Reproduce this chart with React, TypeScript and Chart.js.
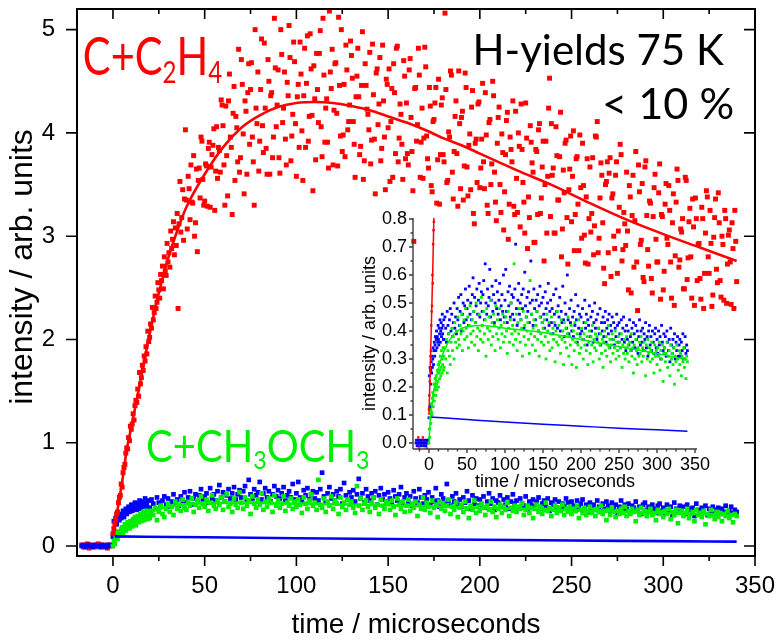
import React, { useEffect, useRef } from 'react';
import { Chart, registerables } from 'chart.js';

Chart.register(...registerables);

// ---------------- data: time in microseconds, intensity in arb. units ----------------
const baselineStart = -17;
const baselineStep = 1;
const redBaseline = [0.01, -0.01, 0.0, 0.02, -0.02, 0.01, 0.0, -0.01, 0.01, 0.02, 0.0, -0.01, 0.01, 0.0, -0.02, 0.01, 0.0];
const blueBaseline = [0.0, 0.01, -0.01, 0.0, 0.01, 0.0, -0.01, 0.01, 0.0, 0.0, -0.01, 0.01, 0.0, -0.01, 0.01, 0.0, 0.01];

// C + C2H4 (red)
const redEarlyStart = 0;
const redEarlyStep = 0.5;
const redEarly = [
  0.12, 0.17, 0.22, 0.26, 0.31, 0.33, 0.42, 0.47, 0.49, 0.60,
  0.57, 0.71, 0.76, 0.79, 0.90, 0.95, 0.94, 1.05, 1.02, 1.16,
  1.13, 1.18, 1.28, 1.22, 1.36, 1.41, 1.39, 1.52, 1.45, 1.68,
  1.57, 1.63, 1.75, 1.70, 1.84, 1.79, 1.93, 1.86, 2.08, 1.98,
  2.02, 2.15, 2.11, 2.31, 2.19, 2.26, 2.42, 2.30, 2.36, 2.55,
  2.48, 2.40, 2.63, 2.57, 2.71, 2.49, 2.80, 2.66, 2.62, 2.93,
  2.75, 2.84, 2.70, 3.05, 2.88, 2.97, 3.14, 2.82, 3.08, 2.91,
  3.22, 2.30, 3.12, 3.53, 3.04, 3.18, 3.45, 2.96, 3.36, 4.03,
];
const redLateStart = 40;
const redLateStep = 1;
const redLate = [
  3.35, 3.58, 3.16, 3.33, 3.78, 3.13, 2.85, 3.66, 3.96, 3.55,
  3.34, 3.68, 3.85, 3.28, 3.79, 4.04, 3.63, 3.56, 3.83, 4.32,
  4.07, 3.30, 3.78, 4.31, 3.96, 3.21, 4.45, 4.16, 3.72, 3.62,
  4.71, 3.99, 4.31, 3.60, 4.67, 4.42, 3.96, 3.30, 4.24, 4.59,
  3.92, 4.91, 3.81, 4.24, 3.60, 4.50, 4.36, 3.76, 5.11, 4.06,
  4.61, 3.61, 4.76, 4.24, 3.94, 4.49, 5.04, 3.73, 4.18, 4.69,
  3.58, 4.47, 4.88, 4.02, 4.36, 3.86, 4.94, 4.16, 4.62, 3.44,
  4.33, 4.77, 4.10, 4.99, 3.77, 4.56, 4.24, 3.91, 5.18, 4.43,
  3.69, 4.67, 4.19, 5.12, 3.97, 3.82, 4.47, 4.85, 4.03, 4.27,
  4.75, 4.11, 3.57, 4.55, 4.35, 3.87, 4.98, 3.73, 4.46, 4.18,
  4.78, 3.93, 4.37, 3.41, 4.62, 4.28, 3.73, 4.85, 3.96, 4.52,
  4.05, 3.53, 4.43, 4.67, 3.80, 4.84, 3.95, 4.18, 3.55, 4.55,
  4.29, 3.69, 4.72, 3.82, 2.95, 4.44, 4.08, 4.56, 3.91, 3.56,
  4.83, 3.97, 3.66, 4.26, 3.43, 4.13, 4.44, 3.74, 3.31, 4.27,
  3.79, 5.16, 3.52, 4.01, 4.60, 3.62, 3.82, 4.31, 3.29, 4.09,
  4.15, 3.35, 4.58, 3.67, 3.88, 3.45, 4.41, 3.12, 3.94, 4.28,
  3.47, 3.94, 3.72, 4.39, 3.30, 4.10, 3.50, 4.50, 3.62, 3.15,
  4.15, 3.50, 3.99, 3.06, 3.79, 4.20, 3.31, 3.84, 4.31, 3.21,
  3.56, 4.00, 3.09, 3.84, 3.33, 4.29, 2.88, 3.18, 3.91, 3.62,
  2.94, 3.82, 4.03, 3.22, 3.67, 2.76, 3.92, 3.58, 4.53, 4.09,
  3.66, 3.03, 3.78, 3.35, 4.20, 3.07, 3.42, 3.93, 2.73, 3.65,
  3.14, 4.02, 3.21, 3.77, 2.86, 3.47, 3.90, 3.01, 3.38, 2.73,
  3.67, 3.22, 2.82, 3.97, 4.11, 2.98, 3.71, 3.13, 2.54, 3.53,
  2.84, 3.76, 3.37, 3.00, 3.59, 2.64, 3.28, 3.79, 2.87, 3.12,
  3.62, 2.48, 3.38, 3.20, 2.70, 3.82, 2.28, 3.43, 2.96, 2.60,
  3.67, 3.20, 2.71, 3.32, 2.45, 3.47, 2.97, 2.75, 3.70, 3.21,
  2.48, 3.31, 2.98, 3.49, 2.75, 3.13, 2.33, 3.33, 3.54, 2.77,
  3.04, 2.49, 3.57, 2.58, 3.14, 2.80, 3.36, 2.33, 3.17, 2.92,
  2.59, 3.28, 2.30, 3.03, 3.38, 2.64, 2.93, 2.43, 3.18, 2.68,
  3.42, 2.57, 3.00, 2.38, 3.17, 2.73, 3.06, 2.34, 2.88, 3.25,
  2.56,
];
// interleaved red samples (half-step later)
const redLate2Start = 40.5;
const redLate2Step = 1;
const redLate2 = [
  3.07, 3.46, 3.69, 3.32, 3.00, 3.65, 3.54, 3.37, 3.92, 3.30,
  3.70, 3.29, 3.91, 3.67, 3.88, 3.25, 4.06, 3.86, 3.62, 4.27,
  3.69, 4.26, 3.39, 4.57, 3.86, 4.19, 3.54, 4.05, 4.81, 3.76,
  4.47, 3.41, 4.21, 4.39, 3.89, 4.68, 3.72, 5.00, 4.09, 3.63,
  4.42, 4.07, 4.87, 3.85, 4.71, 3.60, 4.39, 3.96, 4.63, 4.27,
  3.76, 5.00, 4.10, 4.59, 3.69, 4.36, 4.73, 3.97, 4.88, 4.09,
  4.35, 3.86, 4.57, 3.54, 4.82, 4.48, 3.92, 4.96, 4.17, 4.65,
  3.74, 4.42, 4.77, 4.06, 5.11, 3.91, 4.33, 3.66, 4.59, 4.81,
  4.22, 4.68, 3.68, 4.46, 5.00, 3.98, 3.77, 4.61, 4.11, 4.89,
  4.53, 3.89, 4.35, 4.82, 3.79, 4.46, 3.55, 4.67, 4.23, 4.03,
  3.70, 4.86, 3.94, 4.58, 4.08, 4.73, 3.85, 4.31, 3.45, 4.47,
  4.62, 4.11, 3.57, 4.39, 4.82, 3.72, 4.28, 3.89, 4.70, 3.75,
  3.80, 4.61, 4.15, 3.44, 4.43, 3.92, 4.82, 3.57, 4.24, 3.95,
  4.64, 3.75, 4.44, 3.49, 4.11, 4.29, 3.32, 4.52, 3.79, 4.34,
  3.72, 4.42, 3.54, 3.96, 4.56, 3.36, 4.16, 3.80, 4.60, 3.46,
  4.21, 3.68, 4.44, 3.39, 3.99, 4.25, 3.22, 3.90, 3.52, 4.30,
  3.66, 4.48, 3.46, 3.98, 3.22, 4.13, 3.70, 4.36, 3.33, 3.90,
  4.25, 3.23, 3.81, 3.43, 4.12, 2.97, 3.96, 3.72, 3.29, 4.21,
  3.23, 3.87, 4.28, 3.52, 3.03, 3.95, 3.38, 4.07, 3.71, 2.94,
  3.84, 3.21, 4.09, 3.37, 3.92, 3.50, 3.03, 4.24, 3.19, 3.59,
  3.03, 4.06, 3.35, 3.77, 2.80, 3.64, 3.90, 3.18, 3.45, 3.97,
  3.58, 2.86, 3.75, 3.31, 3.98, 2.98, 3.49, 2.74, 3.75, 3.17,
  3.04, 3.76, 3.10, 3.96, 2.84, 3.37, 3.59, 2.69, 3.50, 3.72,
  3.61, 2.61, 3.41, 2.88, 3.72, 3.05, 3.89, 2.76, 3.23, 2.91,
  3.05, 3.49, 2.45, 3.59, 3.15, 2.75, 3.69, 2.92, 3.51, 2.56,
  3.73, 2.87, 3.34, 2.59, 3.19, 3.60, 2.75, 3.42, 2.39, 3.19,
  2.66, 3.51, 2.92, 3.25, 2.40, 3.41, 2.81, 3.65, 2.70, 3.07,
  3.17, 2.49, 3.54, 2.79, 3.27, 2.40, 3.09, 3.37, 2.57, 2.93,
  2.39, 3.17, 2.64, 3.44, 2.80, 3.25, 2.32, 2.99, 3.36, 2.55,
  3.13, 2.41, 2.92, 3.25, 2.35, 3.01, 2.75, 3.13, 2.30, 2.95,
];

// second (blue) series
const blueEarlyStart = 0;
const blueEarlyStep = 0.5;
const blueEarly = [
  0.09, 0.24, 0.13, 0.27, 0.21, 0.26, 0.29, 0.25, 0.31, 0.27,
  0.30, 0.34, 0.28, 0.33, 0.36, 0.31, 0.35, 0.38, 0.33, 0.37,
  0.40, 0.34, 0.38, 0.36, 0.42, 0.37, 0.35, 0.41, 0.39, 0.44,
  0.36, 0.40, 0.43, 0.38, 0.41, 0.46, 0.39, 0.42, 0.37, 0.44,
];
const blueLateStart = 20;
const blueLateStep = 1;
const blueLate = [
  0.37, 0.45, 0.41, 0.36, 0.47, 0.42, 0.39, 0.44, 0.48, 0.40,
  0.46, 0.38, 0.43, 0.50, 0.41, 0.45, 0.39, 0.48, 0.44, 0.52,
  0.42, 0.47, 0.53, 0.40, 0.46, 0.50, 0.43, 0.49, 0.55, 0.44,
  0.48, 0.51, 0.42, 0.56, 0.46, 0.50, 0.44, 0.53, 0.59, 0.47,
  0.52, 0.43, 0.49, 0.55, 0.46, 0.51, 0.57, 0.45, 0.50, 0.54,
  0.47, 0.53, 0.58, 0.44, 0.64, 0.50, 0.46, 0.55, 0.49, 0.52,
  0.62, 0.45, 0.51, 0.56, 0.47, 0.53, 0.43, 0.50, 0.58, 0.48,
  0.54, 0.46, 0.51, 0.57, 0.44, 0.49, 0.53, 0.47, 0.60, 0.45,
  0.51, 0.62, 0.47, 0.43, 0.54, 0.49, 0.56, 0.45, 0.50, 0.53,
  0.46, 0.52, 0.44, 0.55, 0.71, 0.48, 0.42, 0.51, 0.57, 0.46,
  0.50, 0.44, 0.53, 0.48, 0.55, 0.41, 0.61, 0.49, 0.45, 0.52,
  0.47, 0.54, 0.43, 0.50, 0.65, 0.46, 0.51, 0.42, 0.55, 0.48,
  0.44, 0.51, 0.47, 0.53, 0.40, 0.49, 0.56, 0.45, 0.50, 0.43,
  0.52, 0.46, 0.41, 0.54, 0.48, 0.44, 0.50, 0.57, 0.42, 0.47,
  0.51, 0.43, 0.48, 0.39, 0.53, 0.46, 0.42, 0.55, 0.47, 0.41,
  0.49, 0.45, 0.52, 0.40, 0.47, 0.43, 0.56, 0.44, 0.38, 0.50,
  0.46, 0.41, 0.60, 0.44, 0.39, 0.48, 0.43, 0.51, 0.40, 0.45,
  0.38, 0.47, 0.42, 0.53, 0.44, 0.36, 0.49, 0.41, 0.46, 0.39,
  0.45, 0.40, 0.48, 0.37, 0.43, 0.51, 0.41, 0.46, 0.35, 0.44,
  0.42, 0.49, 0.38, 0.45, 0.40, 0.47, 0.36, 0.43, 0.50, 0.41,
  0.44, 0.37, 0.46, 0.41, 0.39, 0.48, 0.35, 0.43, 0.40, 0.45,
  0.38, 0.43, 0.47, 0.36, 0.41, 0.44, 0.39, 0.46, 0.34, 0.42,
  0.40, 0.45, 0.37, 0.43, 0.35, 0.41, 0.38, 0.46, 0.42, 0.36,
  0.43, 0.39, 0.34, 0.44, 0.37, 0.41, 0.45, 0.36, 0.40, 0.33,
  0.42, 0.37, 0.40, 0.35, 0.44, 0.38, 0.33, 0.41, 0.36, 0.43,
  0.39, 0.34, 0.42, 0.37, 0.40, 0.32, 0.38, 0.44, 0.35, 0.40,
  0.36, 0.41, 0.33, 0.39, 0.37, 0.43, 0.34, 0.38, 0.31, 0.40,
  0.42, 0.35, 0.38, 0.33, 0.40, 0.36, 0.32, 0.39, 0.41, 0.34,
  0.37, 0.32, 0.40, 0.35, 0.38, 0.30, 0.42, 0.36, 0.33, 0.39,
  0.34, 0.38, 0.31, 0.40, 0.36, 0.33, 0.37, 0.29, 0.41, 0.35,
  0.32, 0.37, 0.34, 0.39, 0.30, 0.36, 0.33, 0.38, 0.31, 0.35,
  0.37, 0.31, 0.36, 0.33, 0.39, 0.30, 0.34, 0.38, 0.32, 0.35,
  0.33,
];

// C + CH3OCH3 (green)
const greenEarlyStart = 0;
const greenEarlyStep = 0.5;
const greenEarly = [
  0.00, 0.05, 0.02, 0.09, 0.12, 0.07, 0.14, 0.11, 0.10, 0.16,
  0.18, 0.13, 0.17, 0.21, 0.15, 0.19, 0.23, 0.20, 0.17, 0.24,
  0.21, 0.19, 0.26, 0.22, 0.28, 0.20, 0.25, 0.29, 0.23, 0.26,
  0.31, 0.24, 0.27, 0.33, 0.25, 0.30, 0.28, 0.34, 0.26, 0.31,
];
const greenLateStart = 20;
const greenLateStep = 1;
const greenLate = [
  0.27, 0.34, 0.30, 0.37, 0.25, 0.33, 0.39, 0.31, 0.28, 0.36,
  0.41, 0.33, 0.38, 0.30, 0.43, 0.36, 0.40, 0.34, 0.45, 0.37,
  0.35, 0.42, 0.39, 0.46, 0.33, 0.40, 0.44, 0.37, 0.48, 0.41,
  0.38, 0.45, 0.34, 0.42, 0.49, 0.39, 0.36, 0.44, 0.40, 0.47,
  0.35, 0.43, 0.50, 0.38, 0.41, 0.33, 0.46, 0.40, 0.37, 0.52,
  0.42, 0.36, 0.47, 0.39, 0.44, 0.31, 0.48, 0.41, 0.37, 0.45,
  0.40, 0.51, 0.35, 0.43, 0.38, 0.46, 0.42, 0.33, 0.49, 0.39,
  0.44, 0.37, 0.41, 0.48, 0.34, 0.42, 0.39, 0.46, 0.36, 0.43,
  0.38, 0.45, 0.40, 0.32, 0.47, 0.41, 0.36, 0.44, 0.50, 0.39,
  0.42, 0.35, 0.64, 0.40, 0.37, 0.46, 0.33, 0.43, 0.39, 0.48,
  0.36, 0.44, 0.41, 0.31, 0.47, 0.38, 0.42, 0.35, 0.45, 0.40,
  0.43, 0.37, 0.32, 0.58, 0.39, 0.46, 0.35, 0.41, 0.44, 0.38,
  0.33, 0.42, 0.47, 0.37, 0.40, 0.31, 0.45, 0.39, 0.36, 0.43,
  0.41, 0.35, 0.44, 0.38, 0.30, 0.46, 0.40, 0.36, 0.43, 0.33,
  0.39, 0.45, 0.34, 0.41, 0.37, 0.43, 0.29, 0.40, 0.36, 0.47,
  0.35, 0.42, 0.38, 0.32, 0.44, 0.37, 0.40, 0.28, 0.43, 0.36,
  0.41, 0.34, 0.39, 0.45, 0.31, 0.38, 0.35, 0.42, 0.28, 0.37,
  0.40, 0.33, 0.43, 0.36, 0.27, 0.39, 0.35, 0.44, 0.32, 0.38,
  0.34, 0.41, 0.37, 0.30, 0.39, 0.35, 0.43, 0.33, 0.38, 0.28,
  0.36, 0.40, 0.32, 0.38, 0.35, 0.42, 0.29, 0.37, 0.34, 0.39,
  0.33, 0.38, 0.36, 0.41, 0.30, 0.35, 0.39, 0.32, 0.37, 0.27,
  0.36, 0.40, 0.33, 0.38, 0.31, 0.35, 0.42, 0.34, 0.37, 0.29,
  0.35, 0.39, 0.32, 0.37, 0.34, 0.40, 0.30, 0.36, 0.33, 0.38,
  0.31, 0.36, 0.34, 0.39, 0.27, 0.35, 0.32, 0.37, 0.30, 0.34,
  0.38, 0.32, 0.35, 0.29, 0.36, 0.33, 0.39, 0.31, 0.34, 0.25,
  0.35, 0.30, 0.37, 0.33, 0.28, 0.34, 0.31, 0.36, 0.32, 0.38,
  0.29, 0.34, 0.31, 0.36, 0.33, 0.24, 0.35, 0.30, 0.37, 0.32,
  0.34, 0.29, 0.33, 0.36, 0.30, 0.32, 0.25, 0.35, 0.31, 0.33,
  0.28, 0.34, 0.31, 0.36, 0.26, 0.33, 0.30, 0.35, 0.22, 0.32,
  0.34, 0.29, 0.32, 0.36, 0.27, 0.31, 0.33, 0.24, 0.35, 0.30,
  0.32, 0.28, 0.34, 0.21, 0.31, 0.29, 0.35, 0.30, 0.26, 0.33,
  0.28, 0.32, 0.24, 0.31, 0.29, 0.34, 0.27, 0.30, 0.23, 0.31,
  0.29,
];

// fitted curves
const redFitTime = [0, 2.5, 5, 7.5, 10, 15, 20, 25, 30, 35, 40, 50, 60, 70, 80, 90, 100, 110, 120, 130, 140, 150, 160, 170, 180, 190, 200, 220, 240, 260, 280, 300, 320, 340];
const redFitValue = [0.1, 0.35, 0.62, 0.93, 1.15, 1.6, 2.05, 2.45, 2.78, 3.05, 3.28, 3.6, 3.86, 4.05, 4.17, 4.25, 4.29, 4.3, 4.29, 4.26, 4.22, 4.16, 4.1, 4.03, 3.95, 3.88, 3.8, 3.64, 3.49, 3.32, 3.16, 3.02, 2.89, 2.76];
const greenFitTime = [0, 2, 5, 10, 15, 20, 30, 40, 50, 70, 100, 150, 200, 250, 300, 340];
const greenFitValue = [0, 0.09, 0.16, 0.24, 0.29, 0.33, 0.38, 0.405, 0.415, 0.42, 0.41, 0.395, 0.37, 0.345, 0.32, 0.297];
const blueFitTime = [1, 50, 100, 150, 200, 250, 300, 340];
const blueFitValue = [0.093, 0.084, 0.075, 0.067, 0.06, 0.053, 0.047, 0.042];

// ticks
const mainXTicks = [0, 50, 100, 150, 200, 250, 300, 350];
const mainXMinorTicks = [25, 75, 125, 175, 225, 275, 325];
const mainYTicks = [0, 1, 2, 3, 4, 5];
const insetXTicks = [0, 50, 100, 150, 200, 250, 300, 350];
const insetXMinorTicks = [-12.5, 12.5, 25, 37.5, 62.5, 75, 87.5, 112.5, 125, 137.5, 162.5, 175, 187.5, 212.5, 225, 237.5, 262.5, 275, 287.5, 312.5, 325, 337.5];
const insetYTicks = [0, 0.1, 0.2, 0.3, 0.4, 0.5, 0.6, 0.7, 0.8];
const insetYMinorTicks = [0.05, 0.15, 0.25, 0.35, 0.45, 0.55, 0.65, 0.75];

// texts
const xTitle = 'time / microseconds';
const yTitle = 'intensity / arb. units';
const reaction1Label = [{ t: 'C+C' }, { t: '2', sub: true }, { t: 'H' }, { t: '4', sub: true }];
const reaction2Label = [{ t: 'C+CH' }, { t: '3', sub: true }, { t: 'OCH' }, { t: '3', sub: true }];
const yieldLabel = [{ t: 'H-yields 75 K' }];
const limitLabel = [{ t: '< 10 %' }];

// ---------------- helpers ----------------
const RED = '#ff0000';
const BLUE = '#0000ff';
const GREEN = '#00ee00';
const AXIS_FONT = "'Liberation Sans', Arial, sans-serif";
const NOTE_FONT = "Lato, 'Open Sans', sans-serif";

const seq = (start: number, step: number, values: number[]) => values.map((y, i) => ({ x: start + i * step, y }));
const pairs = (xs: number[], ys: number[]) => xs.map((x, i) => ({ x, y: ys[i] }));

const redPts = [
  ...seq(redEarlyStart, redEarlyStep, redEarly),
  ...seq(redLateStart, redLateStep, redLate),
  ...seq(redLate2Start, redLate2Step, redLate2),
];
const bluePts = [...seq(baselineStart, baselineStep, blueBaseline), ...seq(blueEarlyStart, blueEarlyStep, blueEarly), ...seq(blueLateStart, blueLateStep, blueLate)];
const greenPts = [...seq(greenEarlyStart, greenEarlyStep, greenEarly), ...seq(greenLateStart, greenLateStep, greenLate)];
const redBasePts = seq(baselineStart, baselineStep, redBaseline);

const pointSet = (data: any, color: string, r: number, order: number) => ({
  data, showLine: false, pointStyle: 'rect', pointRadius: r, pointBorderWidth: 0,
  pointBackgroundColor: color, backgroundColor: color, borderColor: color, order, clip: 0,
});
const lineSet = (data: any, color: string, w: number, order: number) => ({
  data, showLine: true, pointRadius: 0, borderColor: color, backgroundColor: color,
  borderWidth: w, order, clip: 0, fill: false, cubicInterpolationMode: 'monotone',
});

// greenLineOrder: main chart keeps the green fit under the green points, inset draws it on top
const buildDatasets = (r: number, rRed: number, lw: number, greenLineOrder: number) => [
  lineSet(pairs(redFitTime, redFitValue), RED, lw, 0),
  pointSet(redPts, RED, rRed, 1),
  lineSet(pairs(greenFitTime, greenFitValue), GREEN, lw, greenLineOrder),
  lineSet(pairs(blueFitTime, blueFitValue), BLUE, lw, 3),
  pointSet(greenPts, GREEN, r, 4),
  pointSet(bluePts, BLUE, r, 5),
  pointSet(redBasePts, RED, rRed, 6),
];

function drawRich(ctx: CanvasRenderingContext2D, parts: any[], x: number, y: number, size: number, color: string, sx: number) {
  ctx.save();
  ctx.translate(x, y);
  ctx.scale(sx, 1);
  ctx.fillStyle = color;
  ctx.textBaseline = 'alphabetic';
  ctx.textAlign = 'left';
  let cx = 0;
  for (const p of parts) {
    const fs = p.sub ? size * 0.58 : size;
    ctx.font = `${fs}px ${NOTE_FONT}`;
    ctx.fillText(p.t, cx, p.sub ? size * 0.15 : 0);
    cx += ctx.measureText(p.t).width;
  }
  ctx.restore();
}

const notes = [
  { parts: reaction1Label, t: -16.4, v: 4.56, size: 52, color: RED, sx: 0.8 },
  { parts: yieldLabel, t: 196, v: 4.66, size: 42, color: '#000', sx: 1 },
  { parts: limitLabel, t: 266.6, v: 4.13, size: 42, color: '#000', sx: 1.03 },
  { parts: reaction2Label, t: 18, v: 0.814, size: 44, color: GREEN, sx: 0.91 },
];

const noPad = (s: any) => { s.paddingTop = 0; s.paddingBottom = 0; s.paddingLeft = 0; s.paddingRight = 0; };

const mainPlugin = {
  id: 'mainFrame',
  afterDatasetsDraw(chart: any) {
    const { ctx, scales: { x, y } } = chart;
    for (const n of notes) drawRich(ctx, n.parts, x.getPixelForValue(n.t), y.getPixelForValue(n.v), n.size, n.color, n.sx);
  },
  afterDraw(chart: any) {
    const { ctx, chartArea: a, scales: { x, y } } = chart;
    ctx.save();
    ctx.strokeStyle = '#000';
    ctx.lineWidth = 1.6;
    ctx.beginPath();
    const seg = (x1: number, y1: number, x2: number, y2: number) => { ctx.moveTo(x1, y1); ctx.lineTo(x2, y2); };
    for (const v of mainXTicks) { const p = x.getPixelForValue(v); seg(p, a.bottom, p, a.bottom + 10); seg(p, a.top, p, a.top + 10); }
    for (const v of mainXMinorTicks) { const p = x.getPixelForValue(v); seg(p, a.bottom, p, a.bottom + 5); seg(p, a.top, p, a.top + 5); }
    for (const v of mainYTicks) { const p = y.getPixelForValue(v); seg(a.left - 11, p, a.left, p); seg(a.right, p, a.right - 11, p); }
    ctx.stroke();
    ctx.lineWidth = 2;
    ctx.strokeRect(a.left, a.top, a.right - a.left, a.bottom - a.top);
    // rotated y title
    ctx.fillStyle = '#000';
    ctx.font = `32px ${AXIS_FONT}`;
    ctx.textAlign = 'center';
    ctx.textBaseline = 'middle';
    ctx.translate(23, 267);
    ctx.rotate(-Math.PI / 2);
    ctx.fillText(yTitle, 0, 0);
    ctx.restore();
  },
};

const insetPlugin = {
  id: 'insetFrame',
  afterDraw(chart: any) {
    const { ctx, chartArea: a, scales: { x, y } } = chart;
    ctx.save();
    ctx.strokeStyle = '#3a3a3a';
    ctx.lineWidth = 1.4;
    ctx.beginPath();
    const seg = (x1: number, y1: number, x2: number, y2: number) => { ctx.moveTo(x1, y1); ctx.lineTo(x2, y2); };
    seg(a.left, a.top, a.left, a.bottom);
    seg(a.left, a.bottom, a.right, a.bottom);
    for (const v of insetYTicks) { const p = y.getPixelForValue(v); seg(a.left - 4, p, a.left, p); }
    for (const v of insetYMinorTicks) { const p = y.getPixelForValue(v); seg(a.left - 2.5, p, a.left, p); }
    for (const v of insetXTicks) { const p = x.getPixelForValue(v); seg(p, a.bottom, p, a.bottom + 4); }
    for (const v of insetXMinorTicks) { const p = x.getPixelForValue(v); seg(p, a.bottom, p, a.bottom + 2.5); }
    ctx.stroke();
    ctx.restore();
  },
};

export default function App() {
  const mainRef = useRef<HTMLCanvasElement>(null);
  const insetRef = useRef<HTMLCanvasElement>(null);

  useEffect(() => {
    const main = new Chart(mainRef.current as HTMLCanvasElement, {
      type: 'scatter',
      data: { datasets: buildDatasets(3.3, 3.5, 2.6, 4.5) as any },
      options: {
        animation: false, responsive: false, devicePixelRatio: 1, events: [],
        layout: { padding: { top: 9, right: 22, left: 0, bottom: 0 } },
        plugins: { legend: { display: false }, tooltip: { enabled: false } },
        scales: {
          x: {
            type: 'linear', min: -19.6, max: 350,
            grid: { display: false, drawTicks: false }, border: { display: false },
            ticks: { color: '#000', font: { family: AXIS_FONT, size: 24 }, padding: 15.6, maxRotation: 0, autoSkip: false },
            afterBuildTicks: (s: any) => { s.ticks = mainXTicks.map((v) => ({ value: v })); },
            afterFit: (s: any) => { s.height = 87; noPad(s); },
            title: { display: true, text: xTitle, color: '#000', font: { family: AXIS_FONT, size: 28 }, padding: { top: 0, bottom: 1 } },
          },
          y: {
            type: 'linear', min: -0.097, max: 5.2,
            grid: { display: false, drawTicks: false }, border: { display: false },
            ticks: { color: '#000', font: { family: AXIS_FONT, size: 24 }, padding: 22, autoSkip: false },
            afterBuildTicks: (s: any) => { s.ticks = mainYTicks.map((v) => ({ value: v })); },
            afterFit: (s: any) => { s.width = 77; noPad(s); },
          },
        },
      } as any,
      plugins: [mainPlugin],
    });

    const inset = new Chart(insetRef.current as HTMLCanvasElement, {
      type: 'scatter',
      data: { datasets: buildDatasets(2.0, 1.7, 1.5, 2) as any },
      options: {
        animation: false, responsive: false, devicePixelRatio: 1, events: [],
        layout: { padding: { top: 18, right: 28, left: 0, bottom: 0 } },
        plugins: { legend: { display: false }, tooltip: { enabled: false } },
        scales: {
          x: {
            type: 'linear', min: -21, max: 352.6,
            grid: { display: false, drawTicks: false }, border: { display: false },
            ticks: { color: '#000', font: { family: AXIS_FONT, size: 18 }, padding: 5.2, maxRotation: 0, autoSkip: false },
            afterBuildTicks: (s: any) => { s.ticks = insetXTicks.map((v) => ({ value: v })); },
            afterFit: (s: any) => { s.height = 46; noPad(s); },
            title: { display: true, text: xTitle, color: '#000', font: { family: AXIS_FONT, size: 18 }, padding: { top: 0, bottom: 2.2 } },
          },
          y: {
            type: 'linear', min: -0.0214, max: 0.8036,
            grid: { display: false, drawTicks: false }, border: { display: false },
            ticks: { color: '#000', font: { family: AXIS_FONT, size: 18 }, padding: 6, autoSkip: false, callback: (v: any) => Number(v).toFixed(1) },
            afterBuildTicks: (s: any) => { s.ticks = insetYTicks.map((v) => ({ value: v })); },
            afterFit: (s: any) => { s.width = 58; noPad(s); },
            title: { display: true, text: yTitle, color: '#000', font: { family: AXIS_FONT, size: 18 }, padding: { top: 4.2, bottom: 0 } },
          },
        },
      } as any,
      plugins: [insetPlugin],
    });

    return () => { main.destroy(); inset.destroy(); };
  }, []);

  return (
    <div style={{ position: 'absolute', left: 0, top: 0, width: 777, height: 643, background: '#fff' }}>
      <canvas ref={mainRef} width={777} height={643} style={{ position: 'absolute', left: 0, top: 0, width: 777, height: 643 }} />
      <canvas ref={insetRef} width={370} height={295} style={{ position: 'absolute', left: 355, top: 200, width: 370, height: 295 }} />
    </div>
  );
}
